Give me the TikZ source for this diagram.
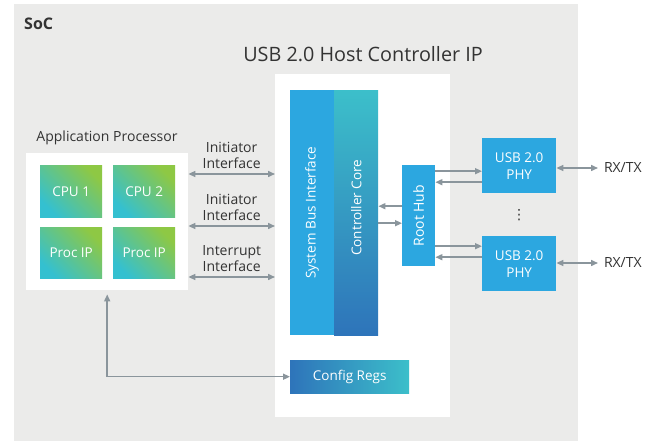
\documentclass[tikz,border=0pt]{standalone}
\usepackage{fontspec}
\setmainfont{Open Sans}
\newfontfamily\dotsfont{DejaVu Sans}
\usepackage{tikz}
\usetikzlibrary{arrows.meta, calc}
\definecolor{socgray}{RGB}{235,235,234}
\definecolor{usbblue}{RGB}{44,167,224}
\definecolor{coreblue}{RGB}{46,116,186}
\definecolor{corecyan}{RGB}{60,191,202}
\definecolor{cpugreen}{RGB}{142,200,68}
\definecolor{cpucyan}{RGB}{52,192,208}
\definecolor{linkgray}{RGB}{138,149,156}
\definecolor{txtgray}{RGB}{51,51,51}

\begin{document}
\begin{tikzpicture}[x=1pt, y=-1pt,
  box/.style={anchor=north west, inner sep=0pt, align=center, text=white,
    font=\fontsize{13.5}{17}\selectfont},
  cpubox/.style={box, minimum width=62pt, shading=axis, bottom color=cpucyan,
    top color=cpugreen, shading angle=-45},
  lbl/.style={text=txtgray, font=\fontsize{14}{15.5}\selectfont, align=center},
  link/.style={draw=linkgray, line width=1.5pt, -{Triangle[length=7pt, width=6pt]}},
  dlink/.style={link, {Triangle[length=7pt, width=6pt]}-{Triangle[length=7pt, width=6pt]}}]
  \useasboundingbox (0,0) rectangle (657,443);

  % SoC frame
  \node[anchor=north west, fill=socgray, minimum width=564pt, minimum height=437pt,
    inner sep=0pt] (soc) at (14,4) {};
  \node[anchor=base west, inner sep=0pt, text=txtgray,
    font=\bfseries\fontsize{16}{18}\selectfont] (soclbl) at (24,30) {SoC};

  % USB host controller IP
  \node[anchor=north west, fill=white, minimum width=175pt, minimum height=343pt,
    inner sep=0pt] (ip) at (275,74) {};
  \node[anchor=base, inner sep=0pt, text=txtgray,
    font=\fontsize{19.8}{22}\selectfont] (iplbl) at (363,62) {USB 2.0 Host Controller IP};
  \node[box, fill=usbblue, minimum width=44pt, minimum height=245pt] (sbi) at (290,90) {};
  \node[rotate=90, text=white, font=\fontsize{13.5}{17}\selectfont] at (sbi.center) {System Bus Interface};
  \node[box, minimum width=44pt, minimum height=245pt, top color=corecyan,
    bottom color=coreblue] (core) at (334,90) {};
  \node[rotate=90, text=white, font=\fontsize{13.5}{17}\selectfont] at ($(core.center)+(0,-5)$) {Controller Core};
  \node[box, fill=usbblue, minimum width=33pt, minimum height=101pt] (rh) at (402,165) {};
  \node[rotate=90, text=white, font=\fontsize{14}{17}\selectfont] at (rh.center) {Root Hub};
  \node[box, minimum width=119pt, minimum height=33pt, left color=coreblue,
    right color=corecyan] (cfg) at (290,360) {Config Regs};

  % PHYs
  \node[box, fill=usbblue, minimum width=74pt, minimum height=55pt] (phy1) at (482,138) {USB 2.0\\PHY};
  \node[box, fill=usbblue, minimum width=74pt, minimum height=55pt] (phy2) at (482,236) {USB 2.0\\PHY};
  \node[text=txtgray, inner sep=0pt, font=\dotsfont\fontsize{14}{16}\selectfont] (dots) at (519,215) {⋮};
  \node[lbl, anchor=west, inner sep=0pt, outer sep=6pt] (rx1) at (598,168) {RX/TX};
  \node[lbl, anchor=west, inner sep=0pt, outer sep=6pt] (rx2) at (598,263) {RX/TX};

  % application processor
  \node[anchor=north west, fill=white, minimum width=162pt, minimum height=137pt,
    inner sep=0pt] (ap) at (26,153) {};
  \node[lbl, anchor=base, inner sep=0pt] (aplbl) at (107,142) {Application Processor};
  \node[cpubox, minimum height=52pt] (cpu1) at (40,165) {CPU 1};
  \node[cpubox, minimum height=52pt] (cpu2) at (113,165) {CPU 2};
  \node[cpubox, minimum height=51pt] (pip1) at (40,227) {Proc IP};
  \node[cpubox, minimum height=51pt] (pip2) at (113,227) {Proc IP};

  % interfaces
  \foreach \y/\txt in {21/{Initiator\\Interface}, 73/{Initiator\\Interface},
                       124/{Interrupt\\Interface}}
    \draw[dlink] ($(ap.north east)+(0,\y)$) --
      node[lbl, above=3pt, inner sep=2pt] {\txt} ($(ip.west |- ap.north east)+(0,\y)$);

  % root hub links
  \draw[link] ($(rh.west)+(0,-9.5)$) -- ($(core.east |- rh.west)+(0,-9.5)$);
  \draw[link] ($(core.east |- rh.west)+(0,7.5)$) -- ($(rh.west)+(0,7.5)$);
  \draw[link] ($(rh.east |- phy1.west)+(0,5.5)$) -- ($(phy1.west)+(0,5.5)$);
  \draw[link] ($(phy1.west)+(0,16.5)$) -- ($(rh.east |- phy1.west)+(0,16.5)$);
  \draw[link] ($(rh.east |- phy2.west)+(0,-17.5)$) -- ($(phy2.west)+(0,-17.5)$);
  \draw[link] ($(phy2.west)+(0,-6.5)$) -- ($(rh.east |- phy2.west)+(0,-6.5)$);
  \draw[dlink] (phy1.east |- rx1.west) -- (rx1.west);
  \draw[dlink] (phy2.east |- rx2.west) -- (rx2.west);

  % config path
  \draw[dlink, shorten >=4pt] (cfg.west) -| (ap.south);
\end{tikzpicture}
\end{document}
